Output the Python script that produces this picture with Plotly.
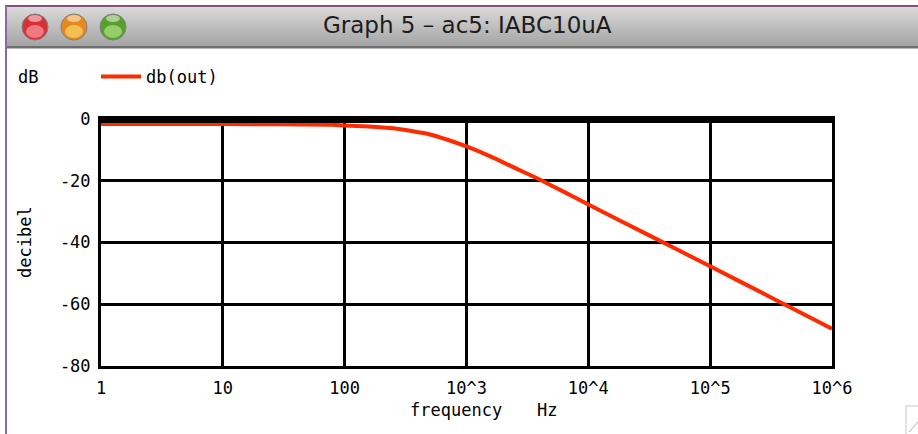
import plotly.graph_objects as go

# ---- data ----
freq_hz = [1, 10, 79.4, 100, 158.5, 251.2, 354.8, 501.2, 707.9, 1000, 1585,
           2512, 3981, 6310, 10000, 31623, 100000, 316228, 1000000]
db_out = [-1.6, -1.6, -1.9, -2.1, -2.4, -3.0, -3.9, -5.0, -6.8, -8.9, -12.2,
          -15.9, -19.6, -23.6, -27.7, -37.7, -47.7, -57.8, -67.9]
x_tick_vals = [1, 10, 100, 1000, 10000, 100000, 1000000]
x_tick_text = ["1", "10", "100", "10^3", "10^4", "10^5", "10^6"]
y_tick_vals = [0, -20, -40, -60, -80]
y_tick_text = ["0", "-20", "-40", "-60", "-80"]
series_name = "db(out)"
window_title = "Graph 5 \u2013 ac5: IABC10uA"

W, H = 918, 434
L, R, T, B = 101, 832, 119, 366
MONO = "DejaVu Sans Mono"
FS = 17


def px(x):
    return (x - L) / (R - L)


def py(y):
    return (B - y) / (B - T)


fig = go.Figure()
fig.add_trace(go.Scatter(
    x=freq_hz, y=db_out, mode="lines", name=series_name,
    line=dict(color="#ff2a00", width=4, shape="spline", smoothing=0.5),
    showlegend=True,
))

shapes = []
# window title bar (stacked bands to mimic gradient)
top, bot = 6, 46
n = 20
c0, c1 = 0xda, 0xa6
for i in range(n):
    y0 = top + (bot - top) * i / n
    y1 = top + (bot - top) * (i + 1) / n + 0.5
    c = int(c0 + (c1 - c0) * i / (n - 1))
    col = f"rgb({c},{c},{c})"
    shapes.append(dict(type="rect", xref="paper", yref="paper",
                       x0=px(6), x1=px(W + 2), y0=py(y0), y1=py(y1),
                       fillcolor=col, line=dict(width=0), layer="below"))
# dark line under title bar
shapes.append(dict(type="rect", xref="paper", yref="paper",
                   x0=px(6), x1=px(W + 2), y0=py(46), y1=py(48.5),
                   fillcolor="#6e6e6e", line=dict(width=0), layer="below"))
# purple top edge
shapes.append(dict(type="rect", xref="paper", yref="paper",
                   x0=px(5), x1=px(W + 2), y0=py(5), y1=py(7),
                   fillcolor="#80507f", line=dict(width=0), layer="below"))
# purple left edge
shapes.append(dict(type="rect", xref="paper", yref="paper",
                   x0=px(5), x1=px(7), y0=py(5), y1=py(H + 2),
                   fillcolor="#8a6aa0", line=dict(width=0), layer="below"))
# traffic lights
for cx, fill, hl in [(35, "#d83038", "rgba(255,170,175,0.6)"),
                     (74, "#e68a1e", "rgba(255,225,120,0.6)"),
                     (113, "#58a02e", "rgba(190,235,150,0.6)")]:
    r = 13
    shapes.append(dict(type="circle", xref="paper", yref="paper",
                       x0=px(cx - r), x1=px(cx + r), y0=py(27 - r), y1=py(27 + r),
                       fillcolor=fill, line=dict(color="#808080", width=1)))
    shapes.append(dict(type="circle", xref="paper", yref="paper",
                       x0=px(cx - 9), x1=px(cx + 9), y0=py(27 - 2), y1=py(27 + 11),
                       fillcolor=hl, line=dict(width=0)))
    shapes.append(dict(type="circle", xref="paper", yref="paper",
                       x0=px(cx - 7), x1=px(cx + 7), y0=py(15), y1=py(22),
                       fillcolor="rgba(255,255,255,0.5)", line=dict(width=0)))
# thick top border of plot
shapes.append(dict(type="line", xref="paper", yref="paper",
                   x0=0, x1=1, y0=py(119.5), y1=py(119.5),
                   line=dict(color="black", width=7), layer="above"))
# resize grip
shapes.append(dict(type="rect", xref="paper", yref="paper",
                   x0=px(906), x1=px(919), y0=py(406), y1=py(436),
                   fillcolor="white", line=dict(color="#c8c8c8", width=1)))
shapes.append(dict(type="line", xref="paper", yref="paper",
                   x0=px(909), x1=px(918), y0=py(432), y1=py(422),
                   line=dict(color="#b0b0b0", width=1)))

annotations = [
    dict(text=window_title, xref="paper", yref="paper", x=px(468), y=py(25),
         showarrow=False, font=dict(family="DejaVu Sans", size=23, color="#1c1c1c"),
         xanchor="center", yanchor="middle"),
    dict(text="dB", xref="paper", yref="paper", x=px(16), y=py(77),
         showarrow=False, font=dict(family=MONO, size=FS, color="black"),
         xanchor="left", yanchor="middle"),
    dict(text="frequency", xref="paper", yref="paper", x=px(408), y=py(410),
         showarrow=False, font=dict(family=MONO, size=FS, color="black"),
         xanchor="left", yanchor="middle"),
    dict(text="Hz", xref="paper", yref="paper", x=px(535), y=py(410),
         showarrow=False, font=dict(family=MONO, size=FS, color="black"),
         xanchor="left", yanchor="middle"),
    dict(text="decibel", xref="paper", yref="paper", x=px(25), y=py(242),
         showarrow=False, textangle=-90, font=dict(family=MONO, size=FS, color="black"),
         xanchor="center", yanchor="middle"),
]

fig.update_layout(
    width=W, height=H,
    margin=dict(l=L, r=W - R, t=T, b=H - B, pad=0),
    paper_bgcolor="white", plot_bgcolor="white",
    font=dict(family=MONO, size=FS, color="black"),
    shapes=shapes, annotations=annotations,
    legend=dict(xref="container", yref="container", x=96 / W, y=1 - 77 / H,
                xanchor="left", yanchor="middle", orientation="h",
                itemwidth=40,
                bgcolor="rgba(0,0,0,0)", borderwidth=0,
                font=dict(family=MONO, size=FS, color="black")),
    xaxis=dict(type="log", range=[0, 6], tickvals=x_tick_vals, ticktext=x_tick_text,
               showgrid=True, gridcolor="black", gridwidth=3,
               showline=True, linecolor="black", linewidth=3, mirror=True,
               ticks="", ticklabelstandoff=5, zeroline=False),
    yaxis=dict(range=[-80, 0], tickvals=y_tick_vals, ticktext=y_tick_text,
               showgrid=True, gridcolor="black", gridwidth=3,
               showline=True, linecolor="black", linewidth=3, mirror=True,
               ticks="", ticklabelstandoff=4, zeroline=False),
)

fig.write_html("out.html", config={"displayModeBar": False},
               post_script="document.body.style.margin='0';document.body.style.overflow='hidden';")
